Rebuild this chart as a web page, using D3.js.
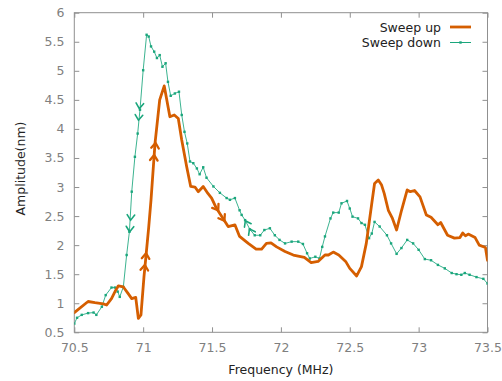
<!DOCTYPE html>
<html>
<head>
<meta charset="utf-8">
<script src="https://cdn.jsdelivr.net/npm/d3@7"></script>
<style>
html,body{margin:0;padding:0;background:#fff;}
svg{display:block;font-family:"DejaVu Sans",sans-serif;}
</style>
</head>
<body>
<svg id="chart" width="502" height="381"></svg>
<script>
// ---- data ----
const upFreq = [70.50,70.60,70.65,70.71,70.735,70.77,70.80,70.82,70.856,70.89,70.917,70.946,70.965,70.984,71.006,71.02,71.04,71.057,71.086,71.12,71.153,71.194,71.226,71.255,71.28,71.316,71.345,71.376,71.40,71.436,71.47,71.497,71.533,71.58,71.617,71.666,71.70,71.763,71.82,71.86,71.895,71.928,71.969,72.03,72.09,72.17,72.22,72.27,72.32,72.345,72.38,72.42,72.47,72.50,72.55,72.585,72.62,72.66,72.68,72.707,72.73,72.75,72.78,72.81,72.84,72.876,72.917,72.94,72.97,73.01,73.056,73.09,73.14,73.16,73.21,73.26,73.30,73.32,73.34,73.36,73.41,73.44,73.485,73.50];
const upAmp  = [0.84,1.03,1.01,0.99,0.97,1.08,1.22,1.30,1.28,1.17,1.08,1.10,0.74,0.80,1.46,1.80,2.30,2.78,3.75,4.50,4.74,4.21,4.24,4.18,3.81,3.35,3.01,3.00,2.92,3.01,2.89,2.81,2.63,2.46,2.32,2.35,2.15,2.03,1.93,1.93,2.03,2.04,1.97,1.89,1.83,1.79,1.70,1.72,1.83,1.83,1.88,1.83,1.72,1.60,1.47,1.63,2.03,2.72,3.06,3.12,3.04,2.89,2.60,2.46,2.26,2.60,2.95,2.92,2.94,2.83,2.52,2.48,2.35,2.39,2.17,2.12,2.13,2.21,2.16,2.19,2.13,2.00,1.96,1.74];

const downFreq = [70.50,70.52,70.554,70.60,70.64,70.66,70.70,70.728,70.77,70.795,70.815,70.83,70.856,70.88,70.90,70.917,70.94,70.96,70.977,71.00,71.025,71.04,71.057,71.08,71.10,71.12,71.14,71.163,71.18,71.20,71.23,71.26,71.28,71.30,71.32,71.34,71.364,71.39,71.41,71.436,71.46,71.51,71.557,71.606,71.63,71.666,71.70,71.715,71.74,71.775,71.81,71.85,71.88,71.92,71.956,71.99,72.03,72.078,72.126,72.16,72.19,72.21,72.25,72.28,72.30,72.32,72.36,72.38,72.42,72.44,72.48,72.50,72.52,72.56,72.585,72.61,72.64,72.66,72.68,72.717,72.77,72.80,72.84,72.875,72.917,72.96,73.00,73.045,73.09,73.14,73.19,73.24,73.275,73.31,73.335,73.37,73.42,73.47,73.50];
const downAmp  = [0.65,0.75,0.80,0.83,0.84,0.80,0.94,1.14,1.27,1.27,1.20,1.11,1.28,1.83,2.23,2.92,3.52,3.92,4.33,5.01,5.62,5.59,5.42,5.33,5.22,5.27,5.07,5.13,4.81,4.57,4.61,4.64,4.24,3.95,3.75,3.44,3.41,3.32,3.22,3.34,3.16,3.01,2.90,2.81,2.78,2.81,2.60,2.52,2.43,2.27,2.17,2.17,2.26,2.29,2.17,2.09,2.03,2.06,2.06,2.02,1.86,1.77,1.80,1.77,1.97,2.15,2.46,2.56,2.56,2.72,2.76,2.63,2.49,2.46,2.38,2.35,2.12,2.20,2.40,2.32,2.17,2.03,1.85,1.95,2.09,2.03,1.92,1.76,1.74,1.66,1.60,1.52,1.50,1.49,1.52,1.49,1.45,1.42,1.34];

// direction markers (chevrons) along each sweep
const upArrowFreq = [71.012, 71.021, 71.08, 71.09, 71.545, 71.59];
const upArrowAmp  = [1.66, 1.86, 3.55, 3.76, 2.60, 2.42];
const downArrowFreq = [70.902, 70.909, 70.966, 70.972, 71.742, 71.772];
const downArrowAmp  = [2.23, 2.43, 4.15, 4.35, 2.42, 2.28];

const xTicks = [70.5,71,71.5,72,72.5,73,73.5];
const yTicks = [0.5,1,1.5,2,2.5,3,3.5,4,4.5,5,5.5,6];
const seriesNames = ["Sweep up","Sweep down"];

// ---- layout ----
const W = 502, H = 381;
const m = {left: 74.3, right: 487.5, top: 12.7, bottom: 332.3};
const cUp = "#d55e00", cDown = "#1aa67c";
const borderC = "#909090", tickTextC = "#7f7f7f";

const svg = d3.select("#chart");
const x = d3.scaleLinear().domain([70.5, 73.5]).range([m.left, m.right]);
const y = d3.scaleLinear().domain([0.5, 6]).range([m.bottom, m.top]);

// ticks inward on all sides
const tl = 5;
const fmt = d => d3.format("")(d);
const axB = d3.axisBottom(x).tickValues(xTicks).tickSize(-tl).tickPadding(10).tickFormat(fmt);
const axT = d3.axisTop(x).tickValues(xTicks).tickSize(-tl).tickFormat("");
const axL = d3.axisLeft(y).tickValues(yTicks).tickSize(-tl).tickPadding(10).tickFormat(fmt);
const axR = d3.axisRight(y).tickValues(yTicks).tickSize(-tl).tickFormat("");

function styleAxis(g){
  g.select(".domain").remove();
  g.selectAll(".tick line").attr("stroke", borderC).attr("stroke-width", 1);
  g.selectAll(".tick text").attr("fill", tickTextC).style("font-size","12.5px").style("font-family","DejaVu Sans, sans-serif");
}
svg.append("g").attr("transform",`translate(0,${m.bottom})`).call(axB).call(styleAxis)
  .selectAll(".tick text").attr("dy","0.75em").attr("y", 10);
svg.append("g").attr("transform",`translate(0,${m.top})`).call(axT).call(styleAxis);
svg.append("g").attr("transform",`translate(${m.left},0)`).call(axL).call(styleAxis)
  .selectAll(".tick text").attr("x", -9.8);
svg.append("g").attr("transform",`translate(${m.right},0)`).call(axR).call(styleAxis);

// border
svg.append("rect").attr("x", m.left).attr("y", m.top)
  .attr("width", m.right - m.left).attr("height", m.bottom - m.top)
  .attr("fill","none").attr("stroke", borderC).attr("stroke-width",1);

// axis titles
svg.append("text").attr("x", (m.left+m.right)/2).attr("y", 374)
  .attr("text-anchor","middle").attr("fill","#222").style("font-size","12.5px")
  .text("Frequency (MHz)");
svg.append("text").attr("transform",`translate(24.5,${(m.top+m.bottom)/2-4}) rotate(-90)`)
  .attr("text-anchor","middle").attr("fill","#222").style("font-size","12.5px")
  .text("Amplitude(nm)");

svg.append("clipPath").attr("id","clip").append("rect")
  .attr("x", m.left).attr("y", m.top).attr("width", m.right-m.left).attr("height", m.bottom-m.top);

const plot = svg.append("g").attr("clip-path","url(#clip)");

const upData = upFreq.map((f,i)=>[f, upAmp[i]]);
const downData = downFreq.map((f,i)=>[f, downAmp[i]]);
const line = d3.line().x(d=>x(d[0])).y(d=>y(d[1]));

// sweep down (thin line with points)
plot.append("path").datum(downData).attr("d", line)
  .attr("fill","none").attr("stroke", cDown).attr("stroke-width",1).attr("stroke-opacity",0.85);
plot.selectAll("rect.pt").data(downData).enter().append("rect").attr("class","pt")
  .attr("x", d=>x(d[0])-1.2).attr("y", d=>y(d[1])-1.2).attr("width",2.4).attr("height",2.4)
  .attr("fill", cDown);

// sweep up (thick line)
plot.append("path").datum(upData).attr("d", line)
  .attr("fill","none").attr("stroke", cUp).attr("stroke-width",2.8)
  .attr("stroke-linejoin","round").attr("stroke-linecap","round");

// chevrons
function segAngle(data, f, dir){
  let i = 0;
  while (i < data.length-2 && data[i+1][0] < f) i++;
  const a = data[i], b = data[i+1];
  let ang = Math.atan2(y(b[1])-y(a[1]), x(b[0])-x(a[0]));
  if (dir < 0) ang += Math.PI;
  return ang;
}
function chevrons(freqs, amps, data, dir, color, sw){
  freqs.forEach((f,i)=>{
    const px = x(f), py = y(amps[i]);
    const ang = segAngle(data, f, dir);
    const L = 6.5, half = 0.62;
    const p1 = [px - L*Math.cos(ang-half), py - L*Math.sin(ang-half)];
    const p2 = [px - L*Math.cos(ang+half), py - L*Math.sin(ang+half)];
    plot.append("path").attr("d", `M${p1[0]},${p1[1]}L${px},${py}L${p2[0]},${p2[1]}`)
      .attr("fill","none").attr("stroke", color).attr("stroke-width", sw)
      .attr("stroke-linecap","round").attr("stroke-linejoin","miter");
  });
}
chevrons(upArrowFreq, upArrowAmp, upData, 1, cUp, 2.3);
chevrons(downArrowFreq, downArrowAmp, downData, -1, cDown, 1.6);

// legend
const leg = svg.append("g");
const legY = [27, 42.5];
seriesNames.forEach((n,i)=>{
  leg.append("text").attr("x", 441).attr("y", legY[i]).attr("dy","0.36em")
    .attr("text-anchor","end").attr("fill","#222").style("font-size","12.5px").text(n);
});
leg.append("line").attr("x1",450).attr("x2",471).attr("y1",legY[0]).attr("y2",legY[0])
  .attr("stroke", cUp).attr("stroke-width",2.8);
leg.append("line").attr("x1",450).attr("x2",471).attr("y1",legY[1]).attr("y2",legY[1])
  .attr("stroke", cDown).attr("stroke-width",1);
leg.append("rect").attr("x",460.5-1.2).attr("y",legY[1]-1.2).attr("width",2.4).attr("height",2.4).attr("fill",cDown);
</script>
</body>
</html>
